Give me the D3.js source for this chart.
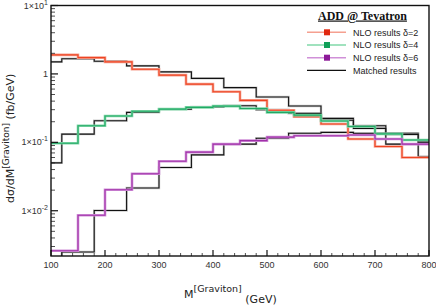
<!DOCTYPE html>
<html>
<head>
<meta charset="UTF-8">
<script src="https://d3js.org/d3.v7.min.js"></script>
<style>
  body { margin: 0; background: #fff; }
  svg { display: block; }
  .tick-label { font-family: "Liberation Sans", Arial, sans-serif; font-size: 9px; fill: #333; }
  .axis-title { font-family: "DejaVu Sans", Verdana, sans-serif; font-size: 11px; fill: #222; }
  .legend-text { font-family: "Liberation Sans", Arial, sans-serif; font-size: 9px; fill: #222; }
</style>
</head>
<body>
<svg id="chart" width="436" height="308"></svg>
<script>
// bin edges (GeV)
const nloEdges = [100, 150, 200, 250, 300, 350, 400, 450, 500, 550, 600, 650, 700, 750, 800];
const matchEdges = [100, 120, 180, 240, 300, 360, 420, 480, 540, 600, 660, 720, 780, 800];

// NLO results, fb/GeV
const nloD2 = [1.9, 1.73, 1.5, 1.17, 0.96, 0.71, 0.55, 0.41, 0.295, 0.237, 0.185, 0.112, 0.087, 0.06];
const nloD4 = [0.097, 0.175, 0.242, 0.284, 0.306, 0.324, 0.338, 0.313, 0.274, 0.25, 0.205, 0.17, 0.133, 0.108];
const nloD6 = [0.0026, 0.0086, 0.0203, 0.0347, 0.053, 0.0718, 0.094, 0.106, 0.119, 0.125, 0.125, 0.128, 0.112, 0.094];

// matched results, fb/GeV
const matchD2 = [1.5, 1.67, 1.53, 1.31, 1.07, 0.86, 0.63, 0.46, 0.34, 0.224, 0.175, 0.136, 0.062];
const matchD4 = [0.05, 0.132, 0.207, 0.274, 0.306, 0.33, 0.342, 0.3, 0.265, 0.21, 0.16, 0.13, 0.105];
const matchD6 = [0.0015, 0.0025, 0.0101, 0.0215, 0.0428, 0.0656, 0.094, 0.115, 0.136, 0.14, 0.135, 0.094, 0.1];

const xTicks = [100, 200, 300, 400, 500, 600, 700, 800];
const yTicks = [10, 1, 0.1, 0.01];
const yTickText = [["1\u00d710", "1"], ["1", ""], ["1\u00d710", "-1"], ["1\u00d710", "-2"]];

const legendNames = ["NLO results \u03b4=2", "NLO results \u03b4=4", "NLO results \u03b4=6", "Matched results"];
const lineColors = ["#ee4422", "#22a865", "#a030a8"];
const bandColors = ["#f5a090", "#80d8a8", "#d090d8"];
const markColors = ["#e02810", "#10a058", "#8c1a98"];

const svg = d3.select("#chart");
const m = { left: 51, right: 429, top: 5.5, bottom: 256 };

const x = d3.scaleLinear().domain([100, 800]).range([m.left, m.right]);
const y = d3.scaleLog().domain([0.00218, 10]).range([m.bottom, m.top]);

svg.append("clipPath").attr("id", "clip")
  .append("rect")
  .attr("x", m.left).attr("y", m.top)
  .attr("width", m.right - m.left).attr("height", m.bottom - m.top);

// step outline of a histogram
function stepPoints(edges, vals) {
  const pts = vals.map((v, i) => [edges[i], v]);
  pts.push([edges[edges.length - 1], vals[vals.length - 1]]);
  return pts;
}
const line = d3.line()
  .x(d => x(d[0]))
  .y(d => y(d[1]))
  .curve(d3.curveStepAfter);

const plot = svg.append("g").attr("clip-path", "url(#clip)");

// matched results
[matchD2, matchD4, matchD6].forEach(vals => {
  plot.append("path")
    .attr("d", line(stepPoints(matchEdges, vals)))
    .attr("fill", "none").attr("stroke", "#999").attr("stroke-width", 2.4).attr("opacity", 0.5);
  plot.append("path")
    .attr("d", line(stepPoints(matchEdges, vals)))
    .attr("fill", "none").attr("stroke", "#111").attr("stroke-width", 1.1);
});

// NLO results (band + line)
[nloD2, nloD4, nloD6].forEach((vals, i) => {
  plot.append("path")
    .attr("d", line(stepPoints(nloEdges, vals)))
    .attr("fill", "none").attr("stroke", bandColors[i]).attr("stroke-width", 2.6);
  plot.append("path")
    .attr("d", line(stepPoints(nloEdges, vals)))
    .attr("fill", "none").attr("stroke", lineColors[i]).attr("stroke-width", 1.1);
});

// x ticks (inward)
const xMinor = d3.range(120, 800, 20).filter(v => v % 100 !== 0);
svg.append("g").selectAll("line").data(xMinor).join("line")
  .attr("x1", d => x(d)).attr("x2", d => x(d))
  .attr("y1", m.bottom).attr("y2", m.bottom - 3)
  .attr("stroke", "#222").attr("stroke-width", 0.8);
svg.append("g").selectAll("line").data(xTicks).join("line")
  .attr("x1", d => x(d)).attr("x2", d => x(d))
  .attr("y1", m.bottom).attr("y2", m.bottom - 6)
  .attr("stroke", "#111").attr("stroke-width", 1.2);
svg.append("g").selectAll("text").data(xTicks).join("text")
  .attr("class", "tick-label")
  .attr("x", d => x(d)).attr("y", 268)
  .attr("text-anchor", "middle")
  .text(d => d);

// y ticks (inward), log minors
const yMinor = [];
[0.001, 0.01, 0.1, 1].forEach(dec => {
  for (let k = 2; k <= 9; k++) {
    const v = dec * k;
    if (v >= y.domain()[0] && v <= 10) yMinor.push(v);
  }
});
svg.append("g").selectAll("line").data(yMinor).join("line")
  .attr("x1", m.left).attr("x2", m.left + 4)
  .attr("y1", d => y(d)).attr("y2", d => y(d))
  .attr("stroke", "#222").attr("stroke-width", 0.8);
svg.append("g").selectAll("line").data(yTicks).join("line")
  .attr("x1", m.left).attr("x2", m.left + 7)
  .attr("y1", d => y(d)).attr("y2", d => y(d))
  .attr("stroke", "#111").attr("stroke-width", 1.2);
const yl = svg.append("g").selectAll("text").data(yTicks).join("text")
  .attr("class", "tick-label")
  .attr("x", 48).attr("y", d => y(d) + 3)
  .attr("text-anchor", "end");
yl.each(function(d, i) {
  const t = d3.select(this);
  t.append("tspan").text(yTickText[i][0]);
  if (yTickText[i][1]) {
    t.append("tspan").attr("dy", -4).attr("font-size", "7px").text(yTickText[i][1]);
  }
});

// frame
svg.append("rect")
  .attr("x", m.left).attr("y", m.top)
  .attr("width", m.right - m.left).attr("height", m.bottom - m.top)
  .attr("fill", "none").attr("stroke", "#111").attr("stroke-width", 1.4);

// x title
const xt = svg.append("text").attr("class", "axis-title").attr("x", 184).attr("y", 298);
xt.append("tspan").text("M");
xt.append("tspan").attr("dy", -6).attr("font-size", "9.5px").text("[Graviton]");
xt.append("tspan").attr("dy", 11).text(" (GeV)");

// y title
const yt = svg.append("text").attr("class", "axis-title")
  .attr("transform", "translate(14,203) rotate(-90)");
yt.append("tspan").text("d\u03c3/dM");
yt.append("tspan").attr("dy", -5).attr("font-size", "9px").text("[Graviton]");
yt.append("tspan").attr("dy", 5).text(" (fb/GeV)");

// legend
svg.append("text")
  .attr("x", 318).attr("y", 19.5)
  .attr("font-family", "'Liberation Serif', 'Times New Roman', serif")
  .attr("font-weight", "bold").attr("font-size", "12px")
  .attr("text-decoration", "underline")
  .attr("fill", "#111")
  .text("ADD @ Tevatron");

const lg = svg.append("g").selectAll("g").data(legendNames).join("g")
  .attr("transform", (d, i) => `translate(0,${32.3 + i * 12.7})`);
lg.append("line")
  .attr("x1", 307).attr("x2", 346).attr("y1", 0).attr("y2", 0)
  .attr("stroke", (d, i) => i < 3 ? bandColors[i] : "#111")
  .attr("stroke-width", (d, i) => i < 3 ? 1.4 : 1.3);
lg.filter((d, i) => i < 3).append("rect")
  .attr("x", 324).attr("y", -3).attr("width", 6).attr("height", 6)
  .attr("fill", (d, i) => markColors[i]);
lg.append("text")
  .attr("class", "legend-text")
  .attr("x", 353).attr("y", 3.2)
  .text(d => d);
</script>
</body>
</html>
